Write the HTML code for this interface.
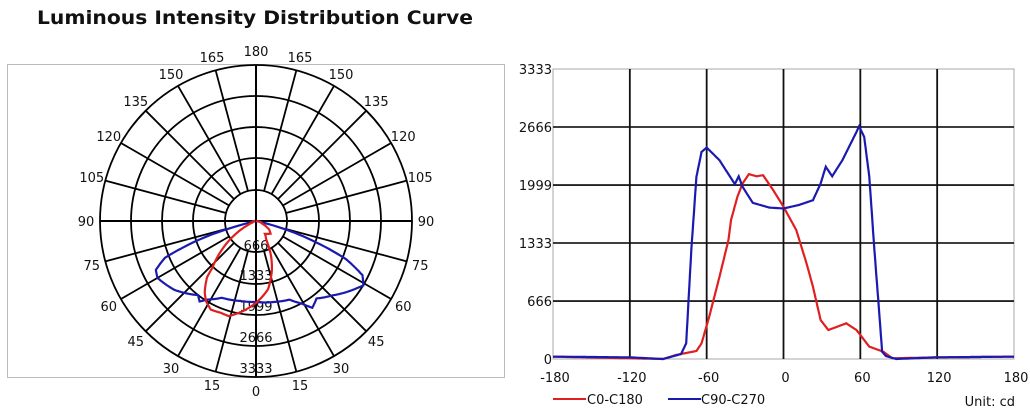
<!DOCTYPE html>
<html><head><meta charset="utf-8"><style>
html,body{margin:0;padding:0;background:#fff;width:1030px;height:413px;overflow:hidden}
svg{display:block}
text{font-family:"DejaVu Sans","Liberation Sans",sans-serif;fill:#111}
</style></head><body>
<svg id="s" width="1030" height="413" xmlns="http://www.w3.org/2000/svg">
<text x="37" y="24" font-size="19" font-weight="bold" textLength="436" lengthAdjust="spacingAndGlyphs">Luminous Intensity Distribution Curve</text>
<rect x="7.5" y="64.5" width="497" height="313" fill="none" stroke="#bbb" stroke-width="1"/>
<g id="polar"></g>
<g id="cart"></g>
<line x1="553" y1="399" x2="586" y2="399" stroke="#e02020" stroke-width="2"/>
<text x="587" y="404" font-size="13">C0-C180</text>
<line x1="668" y1="399" x2="701" y2="399" stroke="#1a1ab0" stroke-width="2"/>
<text x="701" y="404" font-size="13">C90-C270</text>
<text x="1015" y="406" font-size="13" text-anchor="end">Unit: cd</text>
</svg>
<script>
const NS="http://www.w3.org/2000/svg";
function el(p,t,a,txt){const e=document.createElementNS(NS,t);for(const k in a)e.setAttribute(k,a[k]);if(txt!==undefined)e.textContent=txt;p.appendChild(e);return e;}
const blue=[[-180,27],[-120,19],[-94,0],[-80,57],[-76,180],[-72,1250],[-68,2094],[-64,2380],[-60,2430],[-50,2285],[-38,2010],[-35,2100],[-32,1980],[-24,1795],[-11,1740],[0,1730],[12,1770],[23,1825],[29,2017],[33,2210],[38,2100],[46,2285],[57,2610],[59,2675],[63,2553],[67,2094],[71,1250],[75,486],[77,84],[80,34],[88,0],[120,19],[180,27]];
const red=[[-180,27],[-94,0],[-84,46],[-68,92],[-64,180],[-58,486],[-50,945],[-43,1366],[-41,1596],[-36,1864],[-32,2017],[-27,2125],[-21,2100],[-16,2113],[-8,1940],[0,1750],[10,1481],[18,1099],[23,830],[29,448],[35,333],[49,410],[57,333],[67,142],[78,84],[85,8],[120,19],[180,27]];
function interp(d,a){for(let i=0;i<d.length-1;i++){if(a>=d[i][0]&&a<=d[i+1][0]){const t=(a-d[i][0])/(d[i+1][0]-d[i][0]);return d[i][1]+t*(d[i+1][1]-d[i][1]);}}return 0;}
const P=document.getElementById('polar');const cx=256,cy=221;
[31,63,94,125,156].forEach(r=>el(P,'circle',{cx,cy,r,fill:'none',stroke:'#000','stroke-width':1.8}));
for(let a=15;a<180;a+=15){if(a===90)continue;for(const s of[-1,1]){const t=a*Math.PI/180;
el(P,'line',{x1:cx+s*31*Math.sin(t),y1:cy+31*Math.cos(t),x2:cx+s*156*Math.sin(t),y2:cy+156*Math.cos(t),stroke:'#000','stroke-width':1.8});}}
el(P,'line',{x1:cx-156,y1:cy,x2:cx+156,y2:cy,stroke:'#000','stroke-width':2});
el(P,'line',{x1:cx,y1:cy-156,x2:cx,y2:cy+156,stroke:'#000','stroke-width':2});
for(let a=0;a<=180;a+=15){for(const s of[-1,1]){if((a===0||a===180)&&s<0)continue;const t=a*Math.PI/180;const R=170;
el(P,'text',{x:cx+s*R*Math.sin(t),y:cy+R*Math.cos(t)+5,'font-size':13,'text-anchor':'middle'},String(a));}}
[['666',250],['1333',280],['1999',311],['2666',342],['3333',373]].forEach(([t,y])=>el(P,'text',{x:cx,y,'font-size':13,'text-anchor':'middle'},t));
function polarPath(d){let p=[];for(let a=-90;a<=90;a+=0.5){const v=interp(d,a);const r=v/3333*156;const t=a*Math.PI/180;p.push((cx+r*Math.sin(t)).toFixed(1)+','+(cy+r*Math.cos(t)).toFixed(1));}return p.join(' ');}
el(P,'polyline',{points:polarPath(blue),fill:'none',stroke:'#1a1ab0','stroke-width':2.2});
el(P,'polyline',{points:polarPath(red),fill:'none',stroke:'#e02020','stroke-width':2.2});
const C=document.getElementById('cart');const x0=553,x1=1014,y0=69,y1=359;
const X=a=>x0+(a+180)/360*(x1-x0),Y=v=>y1-v/3333*(y1-y0);
el(C,'rect',{x:x0,y:y0,width:x1-x0,height:y1-y0,fill:'none',stroke:'#aaa','stroke-width':1});
[666,1333,1999,2666].forEach(v=>el(C,'line',{x1:x0,y1:Y(v),x2:x1,y2:Y(v),stroke:'#222','stroke-width':1.8}));
[-120,-60,0,60,120].forEach(a=>el(C,'line',{x1:X(a),y1:y0,x2:X(a),y2:y1,stroke:'#111','stroke-width':1.8}));
[[3333,'3333'],[2666,'2666'],[1999,'1999'],[1333,'1333'],[666,'666'],[0,'0']].forEach(([v,t])=>el(C,'text',{x:552,y:Y(v)+5,'font-size':13,'text-anchor':'end'},t));
[-180,-120,-60,0,60,120,180].forEach(a=>el(C,'text',{x:X(a)+2,y:382,'font-size':13,'text-anchor':'middle'},String(a)));
function cartPath(d){let p=[];for(let a=-180;a<=180;a+=0.5){p.push(X(a).toFixed(1)+','+Y(interp(d,a)).toFixed(1));}return p.join(' ');}
el(C,'polyline',{points:cartPath(red),fill:'none',stroke:'#e02020','stroke-width':2.2});
el(C,'polyline',{points:cartPath(blue),fill:'none',stroke:'#1a1ab0','stroke-width':2.2});
</script>
</body></html>
